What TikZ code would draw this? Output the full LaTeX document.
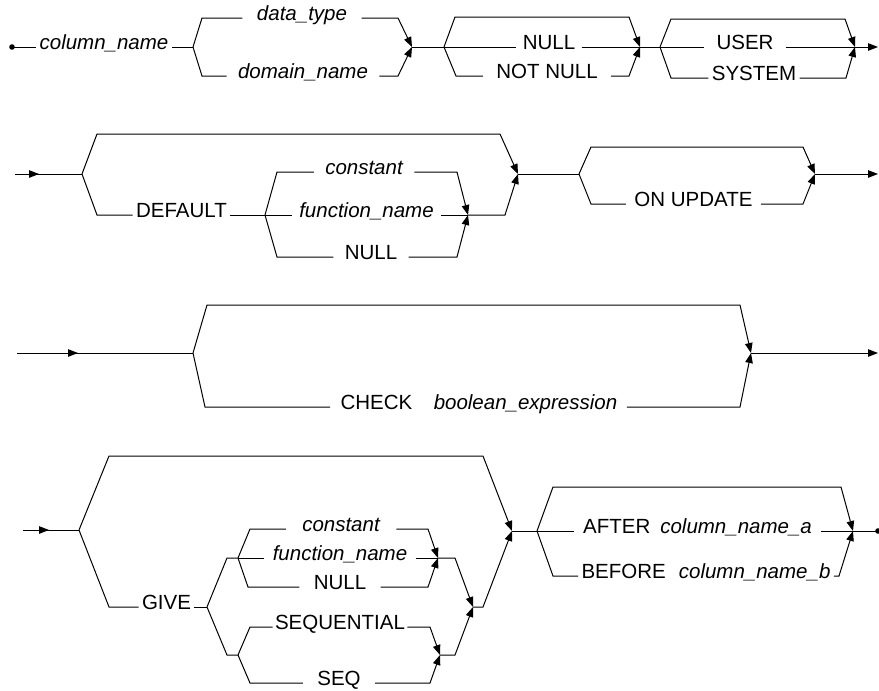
\documentclass[tikz,border=0pt]{standalone}
\usepackage{fontspec}
\setmainfont{Liberation Sans}
\usetikzlibrary{arrows.meta,decorations.markings}
\begin{document}
\begin{tikzpicture}[x=1pt,y=-1pt,line width=1pt,
  lbl/.style={font=\fontsize{20.5}{24}\selectfont, inner xsep=#1, inner ysep=0pt, anchor=mid},
  lbl/.default=8pt,
  ilbl/.style={lbl=#1, font=\fontsize{20.5}{24}\selectfont\itshape},
  ilbl/.default=8pt,
  arr/.style={-{Triangle[length=10pt,width=7.5pt]}},
  entry/.style={postaction={decorate},decoration={markings,mark=at position #1 with {\arrow{Triangle[length=10pt,width=7.5pt]}}}},
]
\useasboundingbox (0,0) rectangle (879,691);

% ---------- Row 1 ----------
\coordinate (s1) at (12,47);
\node[ilbl=3pt] (cn) at (104,47) {column\_name};
\coordinate (b1) at (193,47);
\node[ilbl=14pt] (dt) at (302,18) {data\_type};
\node[ilbl=11pt] (dn) at (303,76) {domain\_name};
\coordinate (m1) at (412,47);
\coordinate (b2) at (444,47);
\node[lbl=6pt] (nl1) at (549,47) {NULL};
\node[lbl=13pt] (nn) at (547,76) {NOT NULL};
\coordinate (m2) at (640,47);
\coordinate (b3) at (660,47);
\node[lbl=12pt] (us) at (745,47) {USER};
\node[lbl=3pt] (sy) at (754,78) {SYSTEM};
\coordinate (m3) at (855,47);
\coordinate (e1) at (878,47);

\fill (s1) circle (2.8);
\draw (s1) -- (cn.mid west);
\draw (cn.mid east) -- (b1);
\draw (b1) -- (202,18) -- (dt.mid west);
\draw[arr] (dt.mid east) -- (398,18) -- (m1);
\draw (b1) -- (202,76) -- (dn.mid west);
\draw[arr] (dn.mid east) -- (398,76) -- (m1);
\draw (m1) -- (b2);
\draw[arr] (b2) -- (455,17) -- (629,17) -- (m2);
\draw (b2) -- (nl1.mid west);
\draw (nl1.mid east) -- (m2);
\draw (b2) -- (456,76) -- (nn.mid west);
\draw[arr] (nn.mid east) -- (629,76) -- (m2);
\draw (m2) -- (b3);
\draw[arr] (b3) -- (671,19) -- (845,19) -- (m3);
\draw (b3) -- (us.mid west);
\draw (us.mid east) -- (m3);
\draw (b3) -- (671,78) -- (sy.mid west);
\draw[arr] (sy.mid east) -- (846,78) -- (m3);
\draw[arr] (m3) -- (e1);

% ---------- Row 2 ----------
\coordinate (s2) at (15,174);
\coordinate (b4) at (82,174);
\coordinate (m4) at (518,174);
\node[lbl=3pt] (df) at (181.5,215) {DEFAULT};
\coordinate (b5) at (265,215);
\node[ilbl=11pt] (c1) at (364,172) {constant};
\node[ilbl=7pt] (f1) at (366.5,215) {function\_name};
\node[lbl=11pt] (n2) at (371,257) {NULL};
\coordinate (m5) at (468,215);
\coordinate (b6) at (579,174);
\node[lbl=8pt] (ou) at (693.5,204) {ON UPDATE};
\coordinate (m6) at (815,174);
\coordinate (e2) at (878,174);

\draw[entry=24pt] (s2) -- (b4);
\draw[arr] (b4) -- (97,134) -- (500,134) -- (m4);
\draw (b4) -- (97,215) -- (df.mid west);
\draw (df.mid east) -- (b5);
\draw (b5) -- (277,172) -- (c1.mid west);
\draw[arr] (c1.mid east) -- (457,172) -- (m5);
\draw (b5) -- (f1.mid west);
\draw (f1.mid east) -- (m5);
\draw (b5) -- (277,257) -- (n2.mid west);
\draw[arr] (n2.mid east) -- (457,257) -- (m5);
\draw[arr] (m5) -- (505,215) -- (m4);
\draw (m4) -- (b6);
\draw[arr] (b6) -- (591,147) -- (803,147) -- (m6);
\draw (b6) -- (591,204) -- (ou.mid west);
\draw[arr] (ou.mid east) -- (803,204) -- (m6);
\draw[arr] (m6) -- (e2);

% ---------- Row 3 ----------
\coordinate (s3) at (17,353);
\coordinate (b7) at (193,353);
\node[lbl=10pt] (ck) at (376.5,407) {CHECK};
\node[ilbl=9pt] (be) at (525.5,407) {boolean\_expression};
\coordinate (m7) at (751,353);
\coordinate (e3) at (878,353);

\draw[entry=61pt] (s3) -- (b7);
\draw[arr] (b7) -- (207,305) -- (740,305) -- (m7);
\draw (b7) -- (205,407) -- (ck.mid west);
\draw[arr] (be.mid east) -- (740,407) -- (m7);
\draw[arr] (m7) -- (e3);

% ---------- Row 4 ----------
\coordinate (s4) at (23,530);
\coordinate (b8) at (79,530);
\node[lbl=3pt] (gv) at (166.5,607) {GIVE};
\coordinate (b9) at (207,607);
\coordinate (b10) at (238,558);
\coordinate (b11) at (238,655);
\node[ilbl=16pt] (c2) at (341,529) {constant};
\node[ilbl=8pt] (f2) at (340,558) {function\_name};
\node[lbl=14pt] (n3) at (340,587) {NULL};
\coordinate (m10) at (438,558);
\node[lbl=2pt] (sq1) at (340,627) {SEQUENTIAL};
\node[lbl=14pt] (sq2) at (339,683) {SEQ};
\coordinate (m11) at (440,655);
\coordinate (m9) at (473,607);
\coordinate (m8) at (512,531);
\coordinate (b12) at (537,531);
\node[lbl=9pt] (af) at (697.5,531) {AFTER\hspace{10pt}\textit{column\_name\_a}};
\node[lbl=3pt] (bf) at (706,576) {BEFORE\hspace{13pt}\textit{column\_name\_b}};
\coordinate (m12) at (853,531);
\coordinate (e4) at (878,531);

\draw[entry=26pt] (s4) -- (b8);
\draw[arr] (b8) -- (109,456) -- (483,456) -- (m8);
\draw (b8) -- (109,607) -- (gv.mid west);
\draw (gv.mid east) -- (b9);
\draw (b9) -- (227,558) -- (b10);
\draw (b9) -- (227,655) -- (b11);
\draw (b10) -- (250,529) -- (c2.mid west);
\draw[arr] (c2.mid east) -- (428,529) -- (m10);
\draw (b10) -- (f2.mid west);
\draw (f2.mid east) -- (m10);
\draw (b10) -- (248,587) -- (n3.mid west);
\draw[arr] (n3.mid east) -- (428,587) -- (m10);
\draw (b11) -- (250,627) -- (sq1.mid west);
\draw[arr] (sq1.mid east) -- (430,627) -- (m11);
\draw (b11) -- (250,683) -- (sq2.mid west);
\draw[arr] (sq2.mid east) -- (430,683) -- (m11);
\draw[arr] (m10) -- (455,558) -- (m9);
\draw[arr] (m11) -- (455,655) -- (m9);
\draw[arr] (m9) -- (483,607) -- (m8);
\draw (m8) -- (b12);
\draw[arr] (b12) -- (553,487) -- (841,487) -- (m12);
\draw (b12) -- (af.mid west);
\draw (af.mid east) -- (m12);
\draw (b12) -- (553,576) -- (bf.mid west);
\draw[arr] (bf.mid east) -- (839,576) -- (m12);
\draw (m12) -- (e4);
\fill (e4) circle (2.8);
\end{tikzpicture}
\end{document}
